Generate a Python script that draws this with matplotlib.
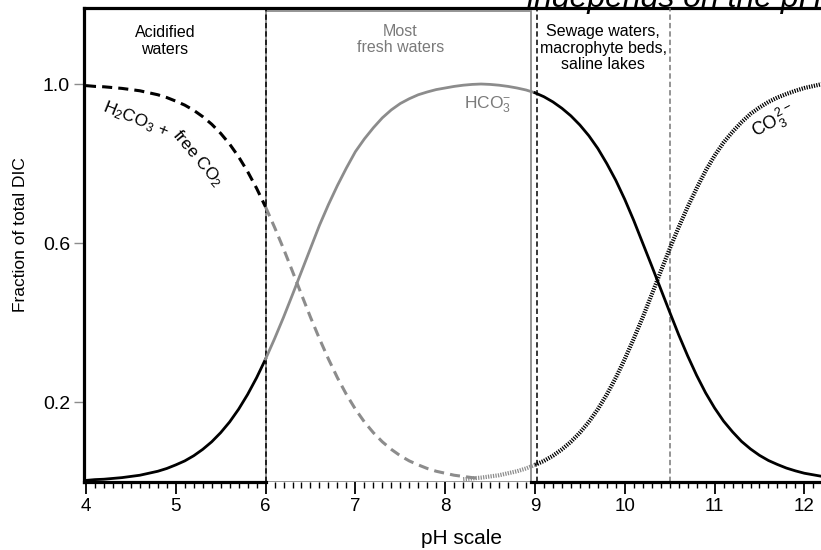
import matplotlib
matplotlib.use("Agg")
import matplotlib.pyplot as plt
from matplotlib.patches import Rectangle
from matplotlib.ticker import MultipleLocator

plt.rcParams['font.family'] = ['Liberation Sans', 'DejaVu Sans']
plt.rcParams['mathtext.fontset'] = 'custom'
plt.rcParams['mathtext.rm'] = 'Liberation Sans'
plt.rcParams['mathtext.it'] = 'Liberation Sans:italic'

# ---- data ----
ph = [4.0, 4.1, 4.2, 4.3, 4.4, 4.5, 4.6, 4.7, 4.8, 4.9,
      5.0, 5.1, 5.2, 5.3, 5.4, 5.5, 5.6, 5.7, 5.8, 5.9,
      6.0, 6.1, 6.2, 6.3, 6.4, 6.5, 6.6, 6.7, 6.8, 6.9,
      7.0, 7.1, 7.2, 7.3, 7.4, 7.5, 7.6, 7.7, 7.8, 7.9,
      8.0, 8.1, 8.2, 8.3, 8.4, 8.5, 8.6, 8.7, 8.8, 8.9,
      9.0, 9.1, 9.2, 9.3, 9.4, 9.5, 9.6, 9.7, 9.8, 9.9,
      10.0, 10.1, 10.2, 10.3, 10.4, 10.5, 10.6, 10.7, 10.8, 10.9,
      11.0, 11.1, 11.2, 11.3, 11.4, 11.5, 11.6, 11.7, 11.8, 11.9,
      12.0, 12.1, 12.2]
# H2CO3 + free CO2, pH 4.0 .. 8.4
h2co3 = [0.996, 0.994, 0.993, 0.991, 0.989, 0.986, 0.983, 0.978, 0.973, 0.966,
         0.957, 0.947, 0.934, 0.918, 0.899, 0.876, 0.849, 0.817, 0.780, 0.738,
         0.691, 0.640, 0.586, 0.529, 0.471, 0.414, 0.360, 0.309, 0.262, 0.220,
         0.183, 0.151, 0.124, 0.101, 0.082, 0.066, 0.053, 0.043, 0.034, 0.027,
         0.022, 0.017, 0.014, 0.011, 0.009]
# HCO3-, pH 4.0 .. 12.2
hco3 = [0.004, 0.006, 0.007, 0.009, 0.011, 0.014, 0.017, 0.022, 0.027, 0.034,
        0.043, 0.053, 0.066, 0.082, 0.101, 0.124, 0.151, 0.183, 0.220, 0.262,
        0.309, 0.360, 0.414, 0.471, 0.529, 0.587, 0.645, 0.697, 0.745, 0.789,
        0.830, 0.862, 0.890, 0.915, 0.935, 0.951, 0.963, 0.973, 0.980, 0.986,
        0.990, 0.994, 0.997, 0.999, 1.000, 0.999, 0.997, 0.994, 0.990, 0.985,
        0.978, 0.968, 0.955, 0.939, 0.920, 0.897, 0.870, 0.838, 0.800, 0.758,
        0.710, 0.657, 0.600, 0.543, 0.485, 0.427, 0.370, 0.317, 0.268, 0.224,
        0.186, 0.153, 0.126, 0.102, 0.083, 0.067, 0.054, 0.044, 0.035, 0.028,
        0.022, 0.018, 0.014]
# CO3 2-, pH 8.2 .. 12.2
co3_ph = [8.2, 8.3, 8.4, 8.5, 8.6, 8.7, 8.8, 8.9,
          9.0, 9.1, 9.2, 9.3, 9.4, 9.5, 9.6, 9.7, 9.8, 9.9,
          10.0, 10.1, 10.2, 10.3, 10.4, 10.5, 10.6, 10.7, 10.8, 10.9,
          11.0, 11.1, 11.2, 11.3, 11.4, 11.5, 11.6, 11.7, 11.8, 11.9,
          12.0, 12.1, 12.2]
co3 = [0.007, 0.009, 0.011, 0.014, 0.017, 0.022, 0.027, 0.034,
       0.043, 0.053, 0.066, 0.082, 0.101, 0.124, 0.151, 0.183, 0.220, 0.262,
       0.309, 0.360, 0.414, 0.471, 0.529, 0.586, 0.640, 0.691, 0.738, 0.782,
       0.820, 0.853, 0.880, 0.904, 0.925, 0.941, 0.955, 0.966, 0.975, 0.983,
       0.990, 0.995, 1.000]
yticks = [0.2, 0.6, 1.0]
ytick_labels = ["0.2", "0.6", "1.0"]
xticks = [4, 5, 6, 7, 8, 9, 10, 11, 12]
regions = ["Acidified\nwaters", "Most\nfresh waters",
           "Sewage waters,\nmacrophyte beds,\nsaline lakes"]

GRAY = '#8c8c8c'
split_lo, split_hi = 6.0, 9.0

def part(xs, ys, lo, hi):
    pairs = [(x, y) for x, y in zip(xs, ys) if lo - 1e-9 <= x <= hi + 1e-9]
    return [p[0] for p in pairs], [p[1] for p in pairs]

fig = plt.figure(figsize=(8.21, 5.5), dpi=100)
ax = fig.add_axes([84 / 821, 68 / 550, 737 / 821, 474 / 550])
ax.set_xlim(3.978, 12.185)
ax.set_ylim(0, 1.191)

for s in ['right', 'bottom']:
    ax.spines[s].set_visible(False)
ax.spines['left'].set_linewidth(2.3)
ax.spines['top'].set_linewidth(2.3)

# bottom axis line (black outside the fresh-water box)
ax.plot([3.978, 6.0], [0, 0], color='black', lw=2.3, clip_on=False, zorder=4)
ax.plot([8.955, 12.185], [0, 0], color='black', lw=2.3, clip_on=False, zorder=4)

# "Most fresh waters" box
ax.add_patch(Rectangle((6.0, 0), 2.955, 1.183, fill=False, ec=GRAY, lw=1.3, zorder=3))
# dashed region boundaries
ax.axvline(6.0, color='black', lw=1.1, ls=(0, (3.5, 2)), zorder=3)
ax.axvline(9.02, color='black', lw=1.1, ls=(0, (3.5, 2)), zorder=3)
ax.axvline(10.5, color='#777777', lw=1.1, ls=(0, (3.5, 2)), zorder=3)

# H2CO3 + free CO2 (dashed)
dash = (0, (3.3, 2.0))
x, y = part(ph, h2co3, 3.9, split_lo)
ax.plot(x, y, color='black', lw=2.2, ls=dash, zorder=5)
x, y = part(ph, h2co3, split_lo, 8.5)
ax.plot(x, y, color=GRAY, lw=2.2, ls=dash, zorder=5)

# HCO3- (solid)
x, y = part(ph, hco3, 3.9, split_lo)
ax.plot(x, y, color='black', lw=2.0, zorder=5, clip_on=False)
x, y = part(ph, hco3, split_lo, split_hi)
ax.plot(x, y, color=GRAY, lw=2.0, zorder=5)
x, y = part(ph, hco3, split_hi, 12.3)
ax.plot(x, y, color='black', lw=2.0, zorder=5, clip_on=False)

# CO3 2- (dense dotted)
dot = (0, (0.3, 0.3))
x, y = part(co3_ph, co3, 8.1, split_hi)
ax.plot(x, y, color=GRAY, lw=3.0, ls=dot, zorder=5)
x, y = part(co3_ph, co3, split_hi, 12.3)
ax.plot(x, y, color='black', lw=3.0, ls=dot, zorder=5, clip_on=False)

# ticks
ax.set_xticks(xticks)
ax.xaxis.set_minor_locator(MultipleLocator(0.1))
ax.tick_params(axis='x', which='major', direction='out', length=8.5, width=1.3,
               labelsize=13.5, pad=3, color='black')
ax.tick_params(axis='x', which='minor', direction='out', length=4.5, width=1.0, color='black')
ax.set_yticks(yticks)
ax.set_yticklabels(ytick_labels)
ax.tick_params(axis='y', which='major', direction='out', length=7, width=1.0,
               labelsize=14, pad=3, color=GRAY)

ax.set_xlabel("pH scale", fontsize=15)
ax.xaxis.set_label_coords((461 - 84) / 737, -(529 - 482) / 474)
ax.set_ylabel("Fraction of total DIC", fontsize=12.5)
ax.yaxis.set_label_coords((20 - 84) / 737, (482 - 235) / 474)
ax.yaxis.label.set_va('center')

# region labels
ax.text(4.88, 1.108, regions[0], ha='center', va='center', fontsize=11.5, linespacing=1.1)
ax.text(7.50, 1.111, regions[1], ha='center', va='center', fontsize=11.5, linespacing=1.1,
        color='#7a7a7a')
ax.text(9.76, 1.09, regions[2], ha='center', va='center', fontsize=11.5, linespacing=1.1)

# curve labels
ax.text(4.55, 0.912, r"H$_2$CO$_3$ +", rotation=-22, ha='center', va='center', fontsize=12.5,
        rotation_mode='anchor')
ax.text(5.245, 0.812, r"free CO$_2$", rotation=-50, ha='center', va='center', fontsize=12.5,
        rotation_mode='anchor')
ax.text(8.47, 0.947, r"HCO$_3^{-}$", ha='center', va='center', fontsize=12.5, color='#7a7a7a')
ax.text(11.66, 0.905, r"CO$_3^{\,2-}$", rotation=28, ha='center', va='center', fontsize=13,
        rotation_mode='anchor')

# partially cut-off heading above the chart (as in the reference)
fig.text(527 / 821, 1 - 7 / 550, "independs on the pH", fontsize=23, style='italic',
         ha='left', va='baseline')

fig.savefig("out.png", dpi=100)
